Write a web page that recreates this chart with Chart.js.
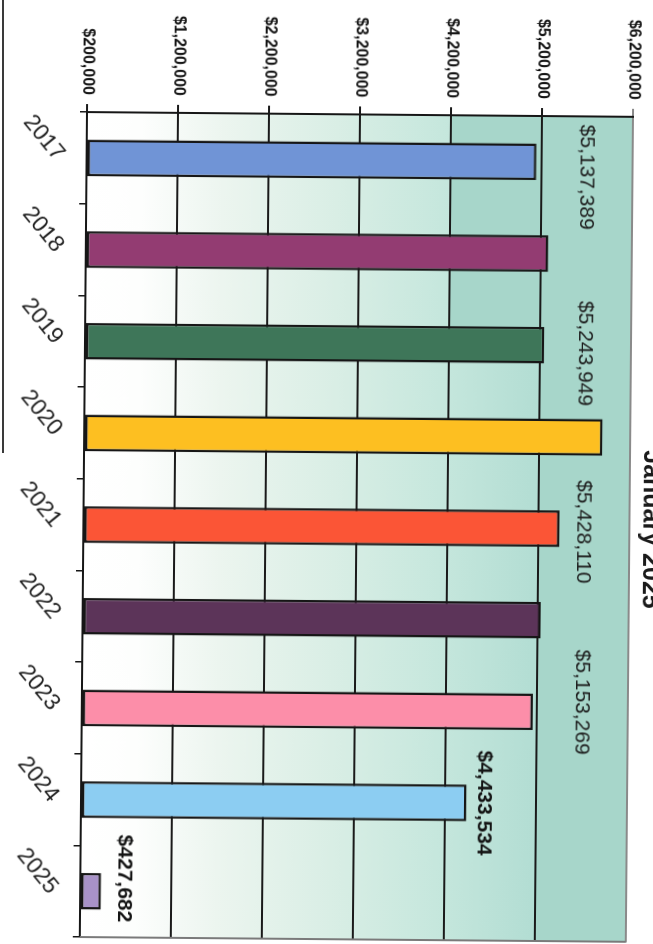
<!DOCTYPE html>
<html>
<head>
<meta charset="utf-8">
<script src="https://cdn.jsdelivr.net/npm/chart.js@4/dist/chart.umd.min.js"></script>
<style>
  html, body { margin: 0; padding: 0; background: #ffffff; overflow: hidden; width: 653px; height: 944px; }
  #edge { position: absolute; left: 2px; top: 0; width: 2px; height: 453px; background: #3a3a3a; }
  #sheet {
    position: absolute; left: 0; top: 0; width: 960px; height: 653px;
    transform-origin: 0 0; transform: translate(653px, 0px) rotate(90.5deg);
  }
  #sheet canvas { position: absolute; left: 0; top: 0; }
  #title {
    position: absolute; left: 117px; width: 825px; top: -16px; height: 25px;
    text-align: center; font: bold 25px/25px "Liberation Sans", Arial, sans-serif;
    color: #1a1a1a; white-space: nowrap;
  }
</style>
</head>
<body>
<div id="edge"></div>
<div id="sheet">
  <canvas id="chart" width="960" height="653"></canvas>
  <div id="title">January 2025</div>
</div>
<script>
// Fiscal years shown along the category axis
const years = ['2017', '2018', '2019', '2020', '2021', '2022', '2023', '2024', '2025'];
// Collections per year (dollars)
const revenue = [5137389, 5280000, 5243949, 5890000, 5428110, 5230000, 5153269, 4433534, 427682];
// Fill colour of each year's bar
const barColors = ['#7094d6', '#933c72', '#3e7659', '#fdbf21', '#fb5536', '#5c3459', '#fc8ea9', '#8ccdf2', '#a892c8'];
// Value-axis range and step
const axisMin = 200000;
const axisMax = 6200000;
const axisStep = 1000000;
// Years whose amount is printed, and how
const printedAmounts = { 0: 'row', 2: 'row', 4: 'row', 6: 'row', 7: 'end', 8: 'end' };

const money = v => '$' + Number(v).toLocaleString('en-US');
const SANS = '"Liberation Sans", Arial, sans-serif';

// Plot-area shading: pale-to-teal wash plus solid teal in the top band
const plotWash = {
  id: 'plotWash',
  beforeDraw(chart) {
    const { ctx, chartArea: { left, right, top, bottom }, scales: { x, y } } = chart;
    const yLow = y.getPixelForValue(axisMin);
    const y42 = y.getPixelForValue(4200000);
    const y52 = y.getPixelForValue(5200000);
    ctx.save();
    const g = ctx.createLinearGradient(0, yLow, 0, y52);
    g.addColorStop(0.00, '#ffffff');
    g.addColorStop(0.12, '#fdfefd');
    g.addColorStop(0.30, '#ecf5ef');
    g.addColorStop(0.55, '#d9eee5');
    g.addColorStop(0.78, '#c6e7dd');
    g.addColorStop(1.00, '#b2ddd3');
    ctx.fillStyle = g;
    ctx.fillRect(left, y52, right - left, bottom - y52);
    ctx.fillStyle = '#a7d6ca';
    ctx.fillRect(left, top, right - left, y52 - top);
    const patchEnd = x.getPixelForValue(2);
    ctx.fillRect(left, y52, patchEnd - left, y42 - y52);
    ctx.restore();
  },
  beforeDatasetsDraw(chart) {
    const { ctx, chartArea: { right, top, bottom } } = chart;
    ctx.save();
    ctx.strokeStyle = '#7a7a7a';
    ctx.lineWidth = 2;
    ctx.beginPath();
    ctx.moveTo(right, top);
    ctx.lineTo(right, bottom);
    ctx.stroke();
    ctx.restore();
  }
};

// Dollar amounts printed beside the bars (hand-placed, so each may sit a little off-centre)
const amountLabels = {
  id: 'amountLabels',
  afterDatasetsDraw(chart, args, opts) {
    const { ctx, scales: { y } } = chart;
    const meta = chart.getDatasetMeta(0);
    const rowY = y.getPixelForValue(opts.rowLevel);
    ctx.save();
    ctx.textAlign = 'center';
    meta.data.forEach((bar, i) => {
      const mode = printedAmounts[i];
      if (!mode) return;
      const text = money(revenue[i]);
      const cx = bar.x + (opts.shift[i] || 0);
      if (mode === 'row') {
        ctx.font = '21px ' + SANS;
        ctx.fillStyle = '#1c1c1c';
        ctx.textBaseline = 'middle';
        ctx.fillText(text, cx, rowY);
      } else {
        ctx.font = 'bold 21px ' + SANS;
        ctx.fillStyle = '#141414';
        ctx.textBaseline = 'alphabetic';
        ctx.fillText(text, cx, bar.y - (opts.gap[i] || 12));
      }
    });
    ctx.restore();
  }
};

new Chart(document.getElementById('chart'), {
  type: 'bar',
  data: {
    labels: years,
    datasets: [{
      data: revenue,
      base: axisMin,
      backgroundColor: barColors,
      borderColor: '#161616',
      borderWidth: 2.5,
      borderSkipped: false,
      barPercentage: 0.4,
      categoryPercentage: 1.0
    }]
  },
  options: {
    responsive: false,
    devicePixelRatio: 1,
    animation: false,
    layout: { padding: { top: 17, right: 18, left: 0, bottom: 0 } },
    plugins: {
      legend: { display: false },
      tooltip: { enabled: false },
      title: { display: false },
      amountLabels: {
        rowLevel: 5690000,
        shift: { 0: 15, 2: 8, 4: 3, 6: -10, 8: -13 },
        gap: { 7: 11, 8: 17 }
      }
    },
    scales: {
      x: {
        offset: true,
        afterFit(scale) { scale.height = 88; },
        border: { display: true, color: '#161616', width: 2 },
        grid: { display: true, drawOnChartArea: false, drawTicks: true, tickLength: 7, color: '#161616', lineWidth: 1.5, offset: true },
        ticks: {
          autoSkip: false,
          minRotation: 40,
          maxRotation: 40,
          padding: 9,
          color: '#1e1e1e',
          font: { family: SANS, size: 23 }
        }
      },
      y: {
        min: axisMin,
        max: axisMax,
        afterFit(scale) { scale.width = 117; },
        border: { display: true, color: '#161616', width: 2 },
        grid: {
          drawTicks: true,
          tickLength: 8,
          lineWidth: 2,
          color: ctx => (ctx.tick && ctx.tick.value === axisMax ? '#8a8a8a' : '#1a1a1a')
        },
        ticks: {
          stepSize: axisStep,
          padding: 9,
          color: '#141414',
          font: { family: SANS, size: 16, weight: 'bold' },
          callback: v => money(v)
        }
      }
    }
  },
  plugins: [plotWash, amountLabels]
});
</script>
</body>
</html>
